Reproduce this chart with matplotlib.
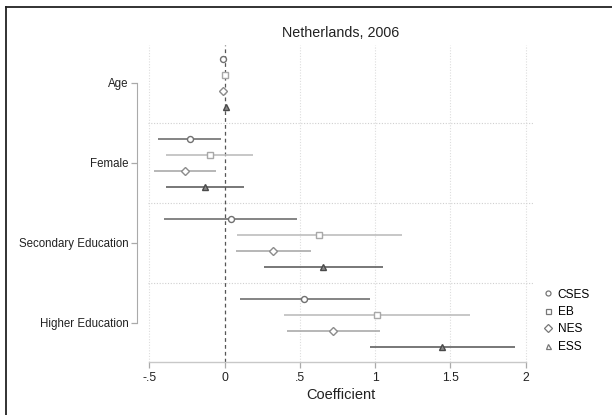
import matplotlib
matplotlib.use("Agg")
import matplotlib.pyplot as plt
from matplotlib.lines import Line2D

plt.rcParams['font.family'] = ['Liberation Sans', 'DejaVu Sans']

# variables (top to bottom) and surveys
variables = ["Age", "Female", "Secondary Education", "Higher Education"]
surveys = ["CSES", "EB", "NES", "ESS"]
xtick_vals = [-0.5, 0, 0.5, 1, 1.5, 2]
xtick_labels = ["-.5", "0", ".5", "1", "1.5", "2"]

# point estimates, one list per survey, order of variables
est = {
    "CSES": [-0.012, -0.23, 0.043, 0.53],
    "EB":   [0.005, -0.10, 0.63, 1.013],
    "NES":  [-0.010, -0.265, 0.325, 0.723],
    "ESS":  [0.010, -0.128, 0.657, 1.447],
}
lo = {
    "CSES": [-0.017, -0.44, -0.40, 0.10],
    "EB":   [0.000, -0.39, 0.085, 0.395],
    "NES":  [-0.015, -0.47, 0.074, 0.417],
    "ESS":  [0.005, -0.39, 0.265, 0.969],
}
hi = {
    "CSES": [-0.007, -0.023, 0.48, 0.967],
    "EB":   [0.010, 0.19, 1.18, 1.63],
    "NES":  [-0.005, -0.06, 0.575, 1.03],
    "ESS":  [0.015, 0.13, 1.05, 1.93],
}

style = {
    "CSES": dict(marker="o", line="#707070", edge="#707070", face="white"),
    "EB":   dict(marker="s", line="#bdbdbd", edge="#a8a8a8", face="white"),
    "NES":  dict(marker="D", line="#aaaaaa", edge="#8c8c8c", face="white"),
    "ESS":  dict(marker="^", line="#606060", edge="#4a4a4a", face="#8a8a8a"),
}
msize = {"o": 4.3, "s": 4.3, "D": 3.8, "^": 4.6}

fig = plt.figure(figsize=(6.12, 4.15), dpi=100)
ax = fig.add_axes([0.242, 0.1277, 0.6305, 0.7639])

# light grid
for gx in [-0.5, 0.5, 1, 1.5, 2]:
    ax.axvline(gx, color="#dddddd", lw=0.8, ls=(0, (1, 1.5)), zorder=0)
for gy in [4, 9, 14]:
    ax.axhline(gy, color="#d0d0d0", lw=0.8, ls=(0, (1, 1.5)), zorder=0)
ax.axvline(0, color="#555555", lw=0.9, ls=(0, (3, 2.5)), zorder=1)

for j, s in enumerate(surveys):
    st = style[s]
    for i in range(len(variables)):
        y = i * 5 + j
        ax.plot([lo[s][i], hi[s][i]], [y, y], color=st["line"], lw=1.2,
                solid_capstyle="butt", zorder=2)
        ax.plot(est[s][i], y, marker=st["marker"], ms=msize[st["marker"]],
                mfc=st["face"], mec=st["edge"], mew=1.0, ls="none", zorder=3)

ax.set_xlim(-0.508, 2.056)
ax.set_ylim(18.94, -0.875)

ax.set_yticks([i * 5 + 1.5 for i in range(len(variables))])
ax.set_yticklabels(variables)
ax.set_xticks(xtick_vals)
ax.set_xticklabels(xtick_labels)
ax.tick_params(axis="both", color="#aaaaaa", length=4, width=0.9,
               labelcolor="#222222")
ax.tick_params(axis="y", pad=2, labelsize=8.3)
ax.tick_params(axis="x", pad=3, labelsize=8.8)

for side in ["top", "right"]:
    ax.spines[side].set_visible(False)
ax.spines["left"].set_position(("outward", 8))
ax.spines["left"].set_bounds(1.5, 16.5)
ax.spines["left"].set_color("#aaaaaa")
ax.spines["bottom"].set_bounds(-0.5, 2)
ax.spines["bottom"].set_color("#c8c8c8")
ax.spines["bottom"].set_linewidth(1.0)

ax.set_xlabel("Coefficient", fontsize=10.5, color="#222222", labelpad=3)
ax.set_title("Netherlands, 2006", fontsize=10.3, color="#222222", pad=6)

handles = [Line2D([], [], marker=style[s]["marker"], ls="none", ms=3.6,
                  mfc="white", mec="#777777", mew=0.9, label=s) for s in surveys]
fig.legend(handles=handles, loc="upper left", bbox_to_anchor=(0.878, 0.316),
           frameon=False, fontsize=8.6, handletextpad=0.3, labelspacing=0.45,
           handlelength=1.0, borderaxespad=0)

# frame lines on top and left like the source
fig.add_artist(Line2D([0.0098, 1], [0.983, 0.983], transform=fig.transFigure,
                      color="#222222", lw=1.3))
fig.add_artist(Line2D([0.0098, 0.0098], [0, 0.983], transform=fig.transFigure,
                      color="#222222", lw=1.3))

fig.savefig("out.png", dpi=100)
